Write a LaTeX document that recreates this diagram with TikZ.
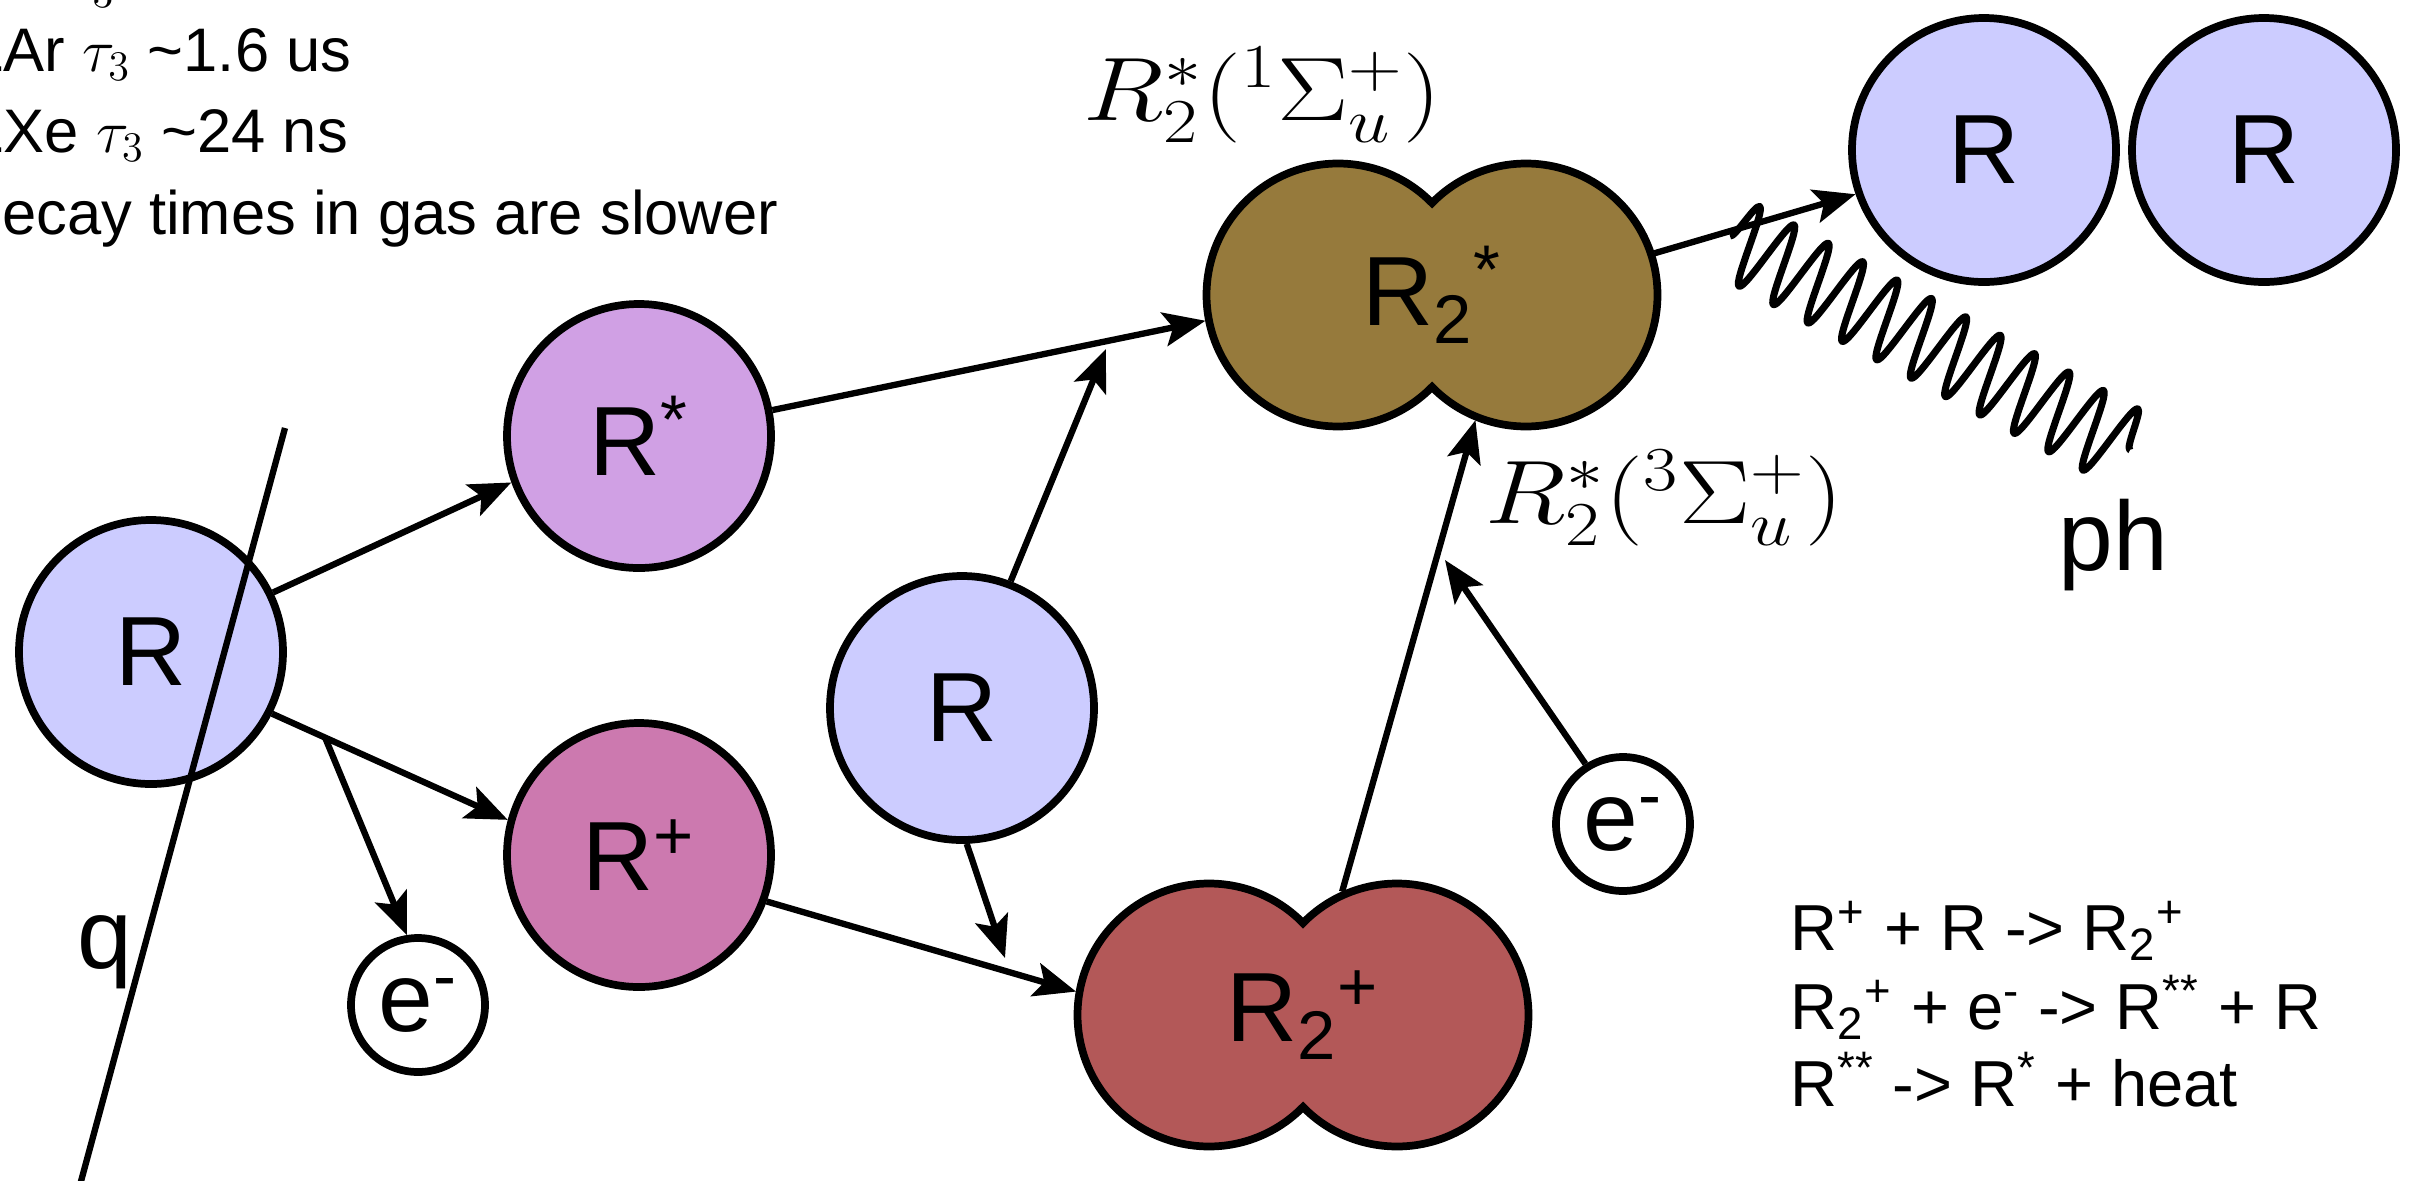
\documentclass[tikz,border=0pt]{standalone}
\usepackage{fontspec}
\setmainfont{Liberation Sans}
\usetikzlibrary{arrows.meta,decorations.pathmorphing}
\definecolor{cR}{RGB}{204,204,255}
\definecolor{cRs}{RGB}{208,160,228}
\definecolor{cRp}{RGB}{204,121,175}
\definecolor{cRtwop}{RGB}{179,88,88}
\definecolor{cRtwos}{RGB}{150,122,60}
\tikzset{
 atom/.style={circle, draw=black, line width=2.2pt, minimum size=2.64cm, inner sep=0pt, font=\fontsize{28}{32}\selectfont},
 elec/.style={circle, draw=black, line width=2.2pt, fill=white, minimum size=1.34cm, inner sep=0pt, font=\fontsize{28}{32}\selectfont},
 lobe/.style={circle, minimum size=2.70cm, inner sep=0pt, outer sep=0pt},
 arr/.style={-{Stealth[length=0.42cm,width=0.34cm,inset=0.09cm]}, line width=1.8pt},
 blob/.style={draw=black, line width=2.2pt},
 lbl/.style={font=\fontsize{28}{32}\selectfont, inner sep=0pt, anchor=base west},
 note/.style={font=\fontsize{17.5}{21}\selectfont, inner sep=0pt, anchor=base west},
 eqn/.style={font=\fontsize{18.5}{22}\selectfont, inner sep=0pt, anchor=base west},
 mlbl/.style={font=\fontsize{26}{30}\selectfont, inner sep=0pt, anchor=base west},
 dlabel/.style={font=\fontsize{28}{32}\selectfont, inner sep=0pt},
 photon/.style={line width=2pt, line join=round, decorate, decoration={snake, amplitude=0.40cm, segment length=0.39cm}},
}
\begin{document}
\begin{tikzpicture}
\useasboundingbox (0,0) rectangle (24.16,-11.80);
\clip (0,0) rectangle (24.16,-11.80);

% top-left notes
\node[note] (n0) at (0.66,0.02) {$\tau_3$};
\node[note] (n1) at (-0.31,-0.71) {LAr $\tau_3$ \textasciitilde1.6 us};
\node[note] (n2) at (-0.31,-1.52) {LXe $\tau_3$ \textasciitilde24 ns};
\node[note] (n3) at (-0.43,-2.34) {Decay times in gas are slower};

% dumbbells
\path[blob, fill=cRtwos] (14.32,-2.0304) arc[start angle=44.37, end angle=315.63, radius=1.315]
  arc[start angle=224.37, end angle=495.63, radius=1.315] -- cycle;
\path[blob, fill=cRtwop] (13.03,-9.2304) arc[start angle=44.37, end angle=315.63, radius=1.315]
  arc[start angle=224.37, end angle=495.63, radius=1.315] -- cycle;
\node[lobe] (R2sL) at (13.38,-2.95) {};
\node[lobe] (R2sR) at (15.26,-2.95) {};
\node[lobe] (R2pL) at (12.09,-10.15) {};
\node[lobe] (R2pR) at (13.97,-10.15) {};
\node[dlabel] (R2s) at (14.32,-2.95) {R\textsubscript{2}\textsuperscript{*}};
\node[dlabel] (R2p) at (13.03,-10.15) {R\textsubscript{2}\textsuperscript{+}};

% atoms
\node[atom, fill=cR] (RL) at (1.51,-6.52) {R};
\node[atom, fill=cRs] (Rs) at (6.39,-4.36) {R\textsuperscript{*}};
\node[atom, fill=cRp] (Rp) at (6.39,-8.55) {R\textsuperscript{+}};
\node[atom, fill=cR] (RM) at (9.62,-7.08) {R};
\node[atom, fill=cR] (RT1) at (19.84,-1.50) {R};
\node[atom, fill=cR] (RT2) at (22.64,-1.50) {R};
\node[elec] (eL) at (4.18,-10.05) {e\textsuperscript{-}};
\node[elec] (eR) at (16.23,-8.24) {e\textsuperscript{-}};

% track q
\coordinate (q1) at (2.85,-4.28);
\coordinate (q2) at (0.80,-11.85);
\draw[line width=1.8pt] (q1) -- (q2);
\node[lbl] (qlab) at (0.77,-9.68) {q};

% junction points
\coordinate (j1) at (11.06,-3.49);
\coordinate (j2) at (10.05,-9.58);
\coordinate (j3) at (14.45,-5.60);

% arrows
\draw[arr] (RL.26) -- (Rs.200);
\draw[arr] (RL.-27) -- coordinate[pos=0.225] (br) (Rp.165);
\draw[arr] (br) -- (eL.99);
\draw[arr] (Rs.11) -- (R2sL.191);
\draw[arr] (RM.69.5) -- (j1);
\draw[arr] (RM.-88) -- (j2);
\draw[arr] (Rp.-20.5) -- (R2pL.170);
\draw[arr] (R2pR.114) -- (R2sR.248);
\draw[arr] (eR.122) -- (j3);
\draw[arr] (R2sR.18.7) -- (RT1.199.5);

% photon
\coordinate (ph1) at (17.30,-2.36);
\coordinate (ph2) at (21.30,-4.50);
\draw[photon] (ph1) -- (ph2);
\node[lbl] (phlab) at (20.58,-5.70) {ph};

% state labels
\node[mlbl] (s1) at (10.83,-1.20) {\scalebox{1.22}[1.03]{$R_2^*({}^1\Sigma_u^+)$}};
\node[mlbl] (s3) at (14.85,-5.23) {\scalebox{1.22}[1.03]{$R_2^*({}^3\Sigma_u^+)$}};

% reactions
\node[eqn] (e1) at (17.90,-9.50) {R\textsuperscript{+} + R -> R\textsubscript{2}\textsuperscript{+}};
\node[eqn] (e2) at (17.90,-10.29) {R\textsubscript{2}\textsuperscript{+} + e\textsuperscript{-} -> R\textsuperscript{**} + R};
\node[eqn] (e3) at (17.90,-11.06) {R\textsuperscript{**} -> R\textsuperscript{*} + heat};
\end{tikzpicture}
\end{document}
